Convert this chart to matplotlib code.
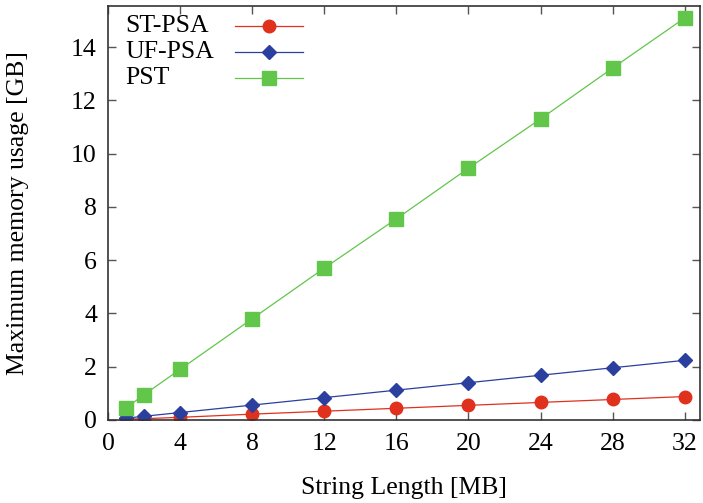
import matplotlib
matplotlib.use('Agg')
import matplotlib.pyplot as plt

# string length in MB
x = [1, 2, 4, 8, 12, 16, 20, 24, 28, 32]
# memory usage in GB
st_psa = [0.03, 0.05, 0.10, 0.22, 0.33, 0.44, 0.55, 0.66, 0.77, 0.88]
uf_psa = [0.07, 0.14, 0.28, 0.56, 0.84, 1.12, 1.40, 1.68, 1.96, 2.24]
pst = [0.45, 0.95, 1.90, 3.80, 5.70, 7.55, 9.45, 11.30, 13.21, 15.09]
labels = ['ST-PSA', 'UF-PSA', 'PST']
xticks = [0, 4, 8, 12, 16, 20, 24, 28, 32]
yticks = [0, 2, 4, 6, 8, 10, 12, 14]

plt.rcParams['font.family'] = ['Liberation Serif', 'DejaVu Serif']
fs = 18.5

fig = plt.figure(figsize=(7.03, 5.03), dpi=100)
ax = fig.add_axes([108/703, 1-420/503, 592/703, 414/503])

styles = [dict(color='#e0301e', marker='o', ms=9),
          dict(color='#2a3f9e', marker='D', ms=7),
          dict(color='#62c64a', marker='s', ms=10)]
for ys, st in zip([st_psa, uf_psa, pst], styles):
    ax.plot(x, ys, lw=0.9, **st)

ax.set_xlim(0, 32.85)
ax.set_ylim(0, 15.54)
ax.set_xticks(xticks)
ax.set_yticks(yticks)
ax.tick_params(direction='in', top=True, right=True, length=6, width=1, color='#555555', labelsize=fs)
ax.tick_params(axis='x', pad=9)
ax.tick_params(axis='y', pad=8)
for s in ax.spines.values():
    s.set_linewidth(1.2)
    s.set_color('#333333')

ax.set_xlabel('String Length [MB]', fontsize=fs, va='center')
ax.set_ylabel('Maximum memory usage [GB]', fontsize=fs, va='center')
ax.xaxis.set_label_coords(0.5, -(488-420)/414)
ax.yaxis.set_label_coords(-(108-18)/592, 0.5)

# key, drawn by hand so the labels stay left aligned
for i, (lab, st) in enumerate(zip(labels, styles)):
    yy = (420 - (26 + 26*i)) / 414
    ax.text((125-108)/592, yy, lab, transform=ax.transAxes, fontsize=fs, va='center', ha='left')
    ax.plot([(235-108)/592, (303-108)/592], [yy, yy], transform=ax.transAxes, lw=0.9,
            color=st['color'], clip_on=False)
    ax.plot([(269-108)/592], [yy], transform=ax.transAxes, ls='none', clip_on=False, **st)

fig.savefig('out.png', dpi=100)
